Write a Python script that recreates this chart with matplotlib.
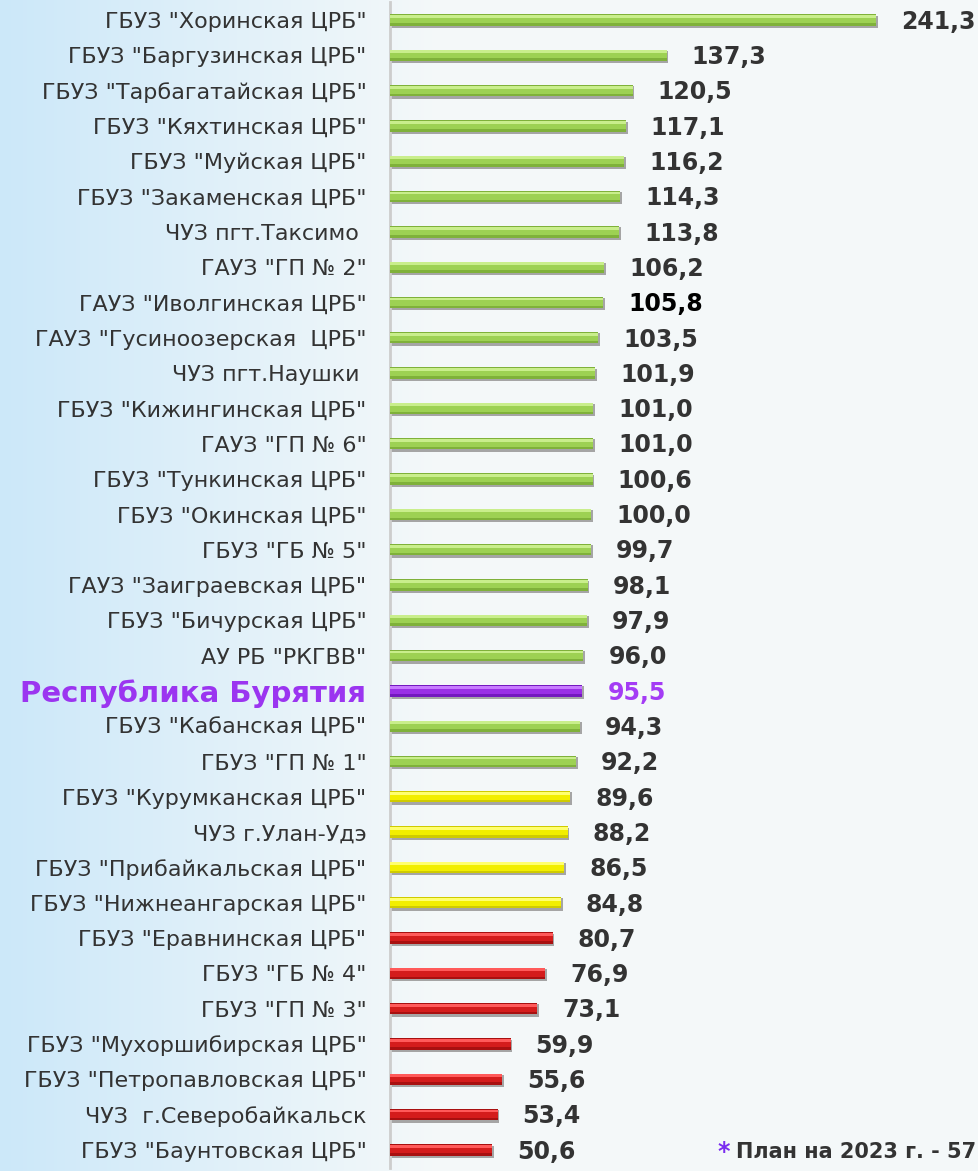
import numpy as np
import matplotlib
matplotlib.use("Agg")
from matplotlib import pyplot as plt

# data
names = [
    'ГБУЗ "Хоринская ЦРБ"', 'ГБУЗ "Баргузинская ЦРБ"', 'ГБУЗ "Тарбагатайская ЦРБ"',
    'ГБУЗ "Кяхтинская ЦРБ"', 'ГБУЗ "Муйская ЦРБ"', 'ГБУЗ "Закаменская ЦРБ"',
    'ЧУЗ пгт.Таксимо ', 'ГАУЗ "ГП № 2"', 'ГАУЗ "Иволгинская ЦРБ"',
    'ГАУЗ "Гусиноозерская  ЦРБ"', 'ЧУЗ пгт.Наушки ', 'ГБУЗ "Кижингинская ЦРБ"',
    'ГАУЗ "ГП № 6"', 'ГБУЗ "Тункинская ЦРБ"', 'ГБУЗ "Окинская ЦРБ"',
    'ГБУЗ "ГБ № 5"', 'ГАУЗ "Заиграевская ЦРБ"', 'ГБУЗ "Бичурская ЦРБ"',
    'АУ РБ "РКГВВ"', 'Республика Бурятия', 'ГБУЗ "Кабанская ЦРБ"',
    'ГБУЗ "ГП № 1"', 'ГБУЗ "Курумканская ЦРБ"', 'ЧУЗ г.Улан-Удэ',
    'ГБУЗ "Прибайкальская ЦРБ"', 'ГБУЗ "Нижнеангарская ЦРБ"', 'ГБУЗ "Еравнинская ЦРБ"',
    'ГБУЗ "ГБ № 4"', 'ГБУЗ "ГП № 3"', 'ГБУЗ "Мухоршибирская ЦРБ"',
    'ГБУЗ "Петропавловская ЦРБ"', 'ЧУЗ  г.Северобайкальск', 'ГБУЗ "Баунтовская ЦРБ"',
]
values = [241.3, 137.3, 120.5, 117.1, 116.2, 114.3, 113.8, 106.2, 105.8, 103.5,
          101.9, 101.0, 101.0, 100.6, 100.0, 99.7, 98.1, 97.9, 96.0, 95.5,
          94.3, 92.2, 89.6, 88.2, 86.5, 84.8, 80.7, 76.9, 73.1, 59.9,
          55.6, 53.4, 50.6]
region_name = "Республика Бурятия"
plan_note = "План на 2023 г. - 57"

# bar colour groups: (main, highlight, dark edge)
green = ("#9dd153", "#c9ee8c", "#7fb13a")
yellow = ("#f2ee00", "#ffff70", "#cfcb00")
red = ("#d41c1c", "#ff5a5a", "#a81010")
purple = ("#9a2fe6", "#c77bff", "#7418bf")


def bar_colors(name, v):
    if name == region_name:
        return purple
    if v >= 90:
        return green
    if v >= 84:
        return yellow
    return red


fig = plt.figure(figsize=(9.79, 11.71), dpi=100)

# background gradient
bg = fig.add_axes([0, 0, 1, 1], zorder=-10)
gx = np.linspace(0, 1, 256)
t = np.clip(gx / 0.45, 0, 1)
r = 0.80 + 0.16 * t
g = 0.91 + 0.065 * t
b = 0.98 + 0.0 * gx
grad = np.dstack([r, g, b]).repeat(2, axis=0)
bg.imshow(grad, aspect="auto", extent=[0, 1, 0, 1])
bg.axis("off")

W, H = 979, 1171
x0 = 390
px_per_unit = 2.014
xmax = 270
row_h = 35.31
top = 20 - row_h / 2
n = len(values)
ax = fig.add_axes([x0 / W, 1 - (top + n * row_h) / H,
                   xmax * px_per_unit / W, n * row_h / H])
ax.set_facecolor("none")

y = np.arange(n)
cols = [bar_colors(nm, v) for nm, v in zip(names, values)]

# shadow, body, highlight
ax.barh(y + 0.05, np.array(values) + 0.9, height=0.35, color="#a5a5a5", zorder=2)
ax.barh(y, values, height=0.32, color=[c[2] for c in cols], zorder=3)
ax.barh(y - 0.02, values, height=0.22, color=[c[0] for c in cols], zorder=4)
ax.barh(y - 0.10, values, height=0.08, color=[c[1] for c in cols], zorder=5)

for i, (nm, v) in enumerate(zip(names, values)):
    color = "#333333"
    if nm == region_name:
        color = "#a43cf5"
    elif v == 105.8:
        color = "#000000"
    ax.annotate(f"{v:.1f}".replace(".", ","), (v, i + 0.05), xytext=(18, 0),
                textcoords="offset points", va="center", ha="left",
                fontsize=17, fontweight="bold", color=color, clip_on=False)

ax.set_ylim(n - 0.5, -0.5)
ax.set_xlim(0, xmax)
ax.set_yticks(y)
ax.set_yticklabels(names, fontsize=16, color="#333333")
ax.tick_params(axis="y", length=0, pad=17)
ax.set_xticks([])
for lbl in ax.get_yticklabels():
    if lbl.get_text() == region_name:
        lbl.set_color("#9b35f0")
        lbl.set_fontweight("bold")
        lbl.set_fontsize(21)

for s in ["top", "right", "bottom"]:
    ax.spines[s].set_visible(False)
ax.spines["left"].set_color("#cdcdcd")
ax.spines["left"].set_linewidth(2)

# footnote, right aligned to the figure edge
note = fig.text(0.997, 1 - 1152 / H, plan_note, color="#333333", fontsize=15,
                fontweight="bold", va="center", ha="right")
fig.canvas.draw()
bb = note.get_window_extent()
fig.text((bb.x0 - 6) / W, 1 - 1152 / H, "*", color="#7a2cf0", fontsize=17,
         fontweight="bold", va="center", ha="right")

fig.savefig("out.png", dpi=100)
